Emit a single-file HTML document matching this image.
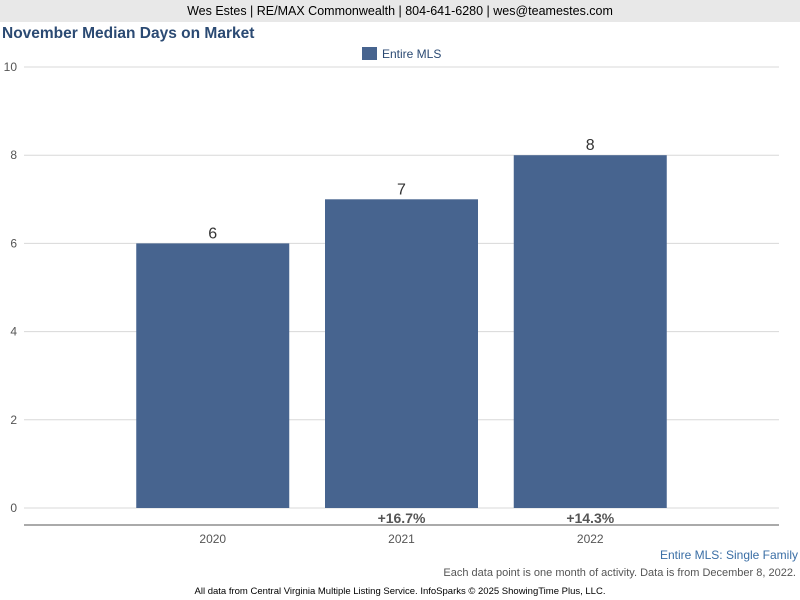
<!DOCTYPE html>
<html><head><meta charset="utf-8"><style>
body{margin:0;width:800px;height:600px;background:#fff;font-family:"Liberation Sans",sans-serif;overflow:hidden;position:relative}
.hdr{position:absolute;left:0;top:0;width:800px;height:22px;background:#e8e8e8;text-align:center;font-size:12.5px;line-height:22px;color:#000}
.title{position:absolute;left:2px;top:25px;font-size:15.5px;font-weight:bold;color:#2b4a73}
</style></head><body>
<div class="hdr">Wes Estes | RE/MAX Commonwealth | 804-641-6280 | wes@teamestes.com</div>
<div class="title">November Median Days on Market</div>
<svg id="chart" width="800" height="600" style="position:absolute;left:0;top:0"></svg>
<script>
const categories=["2020","2021","2022"];
const values=[6,7,8];
const pctLabels=["","+16.7%","+14.3%"];
const yTicks=[0,2,4,6,8,10];
const svg=document.getElementById('chart');
const NS='http://www.w3.org/2000/svg';
const x0=24,x1=779,y0=508,yTop=67,yMax=10;
const slot=(x1-x0)/4;
const yS=v=>y0-(y0-yTop)*v/yMax;
function mk(t,a,txt){const e=document.createElementNS(NS,t);for(const k in a)e.setAttribute(k,a[k]);if(txt!==undefined)e.textContent=txt;svg.appendChild(e);return e;}
let lg=mk('rect',{x:362,y:47,width:15,height:13,fill:'#47648f'});


let lt=mk('text',{x:382,y:58,'font-size':12,fill:'#2b4a73'},'Entire MLS');


yTicks.forEach(v=>{
 let g=mk('line',{x1:x0,x2:x1,y1:yS(v),y2:yS(v),stroke:'#d8d8d8','stroke-width':1});
 
 
 let t=mk('text',{x:17,y:yS(v)+4,'font-size':12,fill:'#555','text-anchor':'end'},String(v));
 
 
});
let ax=mk('line',{x1:x0,x2:x1,y1:525,y2:525,stroke:'#555','stroke-width':1});


const bw=153;
categories.forEach((c,i)=>{
 const cx=x0+slot*(i+1);
 let b=mk('rect',{x:cx-bw/2,y:yS(values[i]),width:bw,height:y0-yS(values[i]),fill:'#47648f'});
 
 
 let v=mk('text',{x:cx,y:yS(values[i])-5,'font-size':16,fill:'#333','text-anchor':'middle'},String(values[i]));
 
 
 if(pctLabels[i]){let p=mk('text',{x:cx,y:523,'font-size':14,'font-weight':'bold',fill:'#555','text-anchor':'middle'},pctLabels[i]);
 
 }
 let xl=mk('text',{x:cx,y:543,'font-size':12,fill:'#555','text-anchor':'middle'},c);
 
 
});
let s1=mk('text',{x:798,y:559,'font-size':12,fill:'#3a6ea5','text-anchor':'end'},'Entire MLS: Single Family');


let s2=mk('text',{x:796,y:576,'font-size':11,fill:'#555','text-anchor':'end'},'Each data point is one month of activity. Data is from December 8, 2022.');


let s3=mk('text',{x:400,y:594,'font-size':9.5,fill:'#000','text-anchor':'middle'},'All data from Central Virginia Multiple Listing Service. InfoSparks © 2025 ShowingTime Plus, LLC.');


</script>
</body></html>
